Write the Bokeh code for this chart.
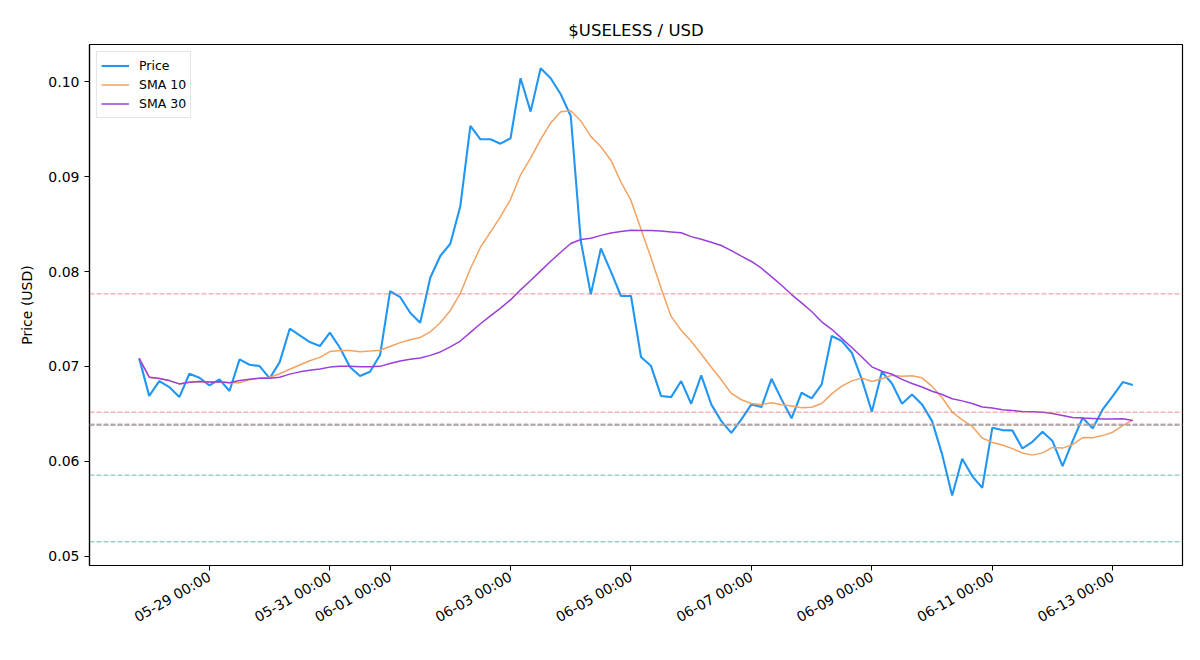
import math
import pandas as pd
from bokeh.plotting import figure
from bokeh.models import (ColumnDataSource, Range1d, FixedTicker, DatetimeTickFormatter,
                          PrintfTickFormatter, Span, Legend, LegendItem)
from bokeh.embed import file_html
from bokeh.resources import INLINE

# ---------------- data ----------------
start_time = "2025-05-27 20:00"
step = "4h"

price = [0.07085,0.0669,0.06846,0.06783,0.06677,0.06923,0.06881,0.0680,0.06864,0.06741,
0.07075,0.07018,0.07004,0.06874,0.07046,0.07398,0.07328,0.07257,0.07215,0.07356,
0.07197,0.06994,0.06899,0.06944,0.07120,0.07795,0.07732,0.07566,0.07461,0.07936,
0.08165,0.08294,0.08692,0.09536,0.09395,0.09395,0.09349,0.09406,0.10039,0.09687,
0.10145,0.10039,0.0987,0.09641,0.08323,0.0776,0.08245,0.0800,0.07743,0.07743,
0.0710,0.07004,0.06688,0.06677,0.06846,0.06607,0.06906,0.0660,0.06424,0.0630,
0.06442,0.0660,0.06572,0.0687,0.06653,0.06453,0.06723,0.06663,0.06811,0.07321,
0.07268,0.07145,0.06864,0.06522,0.06944,0.0682,0.06607,0.06705,0.0660,0.06424,
0.06073,0.0564,0.06026,0.05844,0.0572,0.06353,0.06329,0.06326,0.06136,0.06206,
0.06311,0.06213,0.05949,0.06213,0.06459,0.06347,0.06547,0.06688,0.06835,0.06804]

sma10 = [0.07085,0.06887,0.06874,0.06851,0.06816,0.06834,0.06841,0.06836,0.06839,0.06829,
0.06828,0.06861,0.06877,0.06886,0.06923,0.06970,0.07015,0.07060,0.07096,0.07157,
0.07169,0.07167,0.07156,0.07163,0.07171,0.07210,0.07251,0.07282,0.07306,0.07364,
0.07461,0.07591,0.07770,0.08030,0.08257,0.08417,0.08579,0.08763,0.09021,0.09196,
0.09394,0.09568,0.09686,0.09697,0.09589,0.09426,0.09316,0.09175,0.08945,0.08751,
0.08446,0.08143,0.07825,0.07528,0.07381,0.07265,0.07131,0.06991,0.06859,0.06715,
0.06649,0.06609,0.06597,0.06617,0.06597,0.06582,0.06564,0.06570,0.06609,0.06711,
0.06793,0.06848,0.06877,0.06842,0.06871,0.06908,0.06896,0.06901,0.06880,0.06790,
0.06670,0.06520,0.06436,0.06368,0.06246,0.06199,0.06171,0.06134,0.06087,0.06065,
0.06089,0.06146,0.06139,0.06176,0.06250,0.06249,0.06271,0.06307,0.06377,0.06437]

sma30 = [0.07085,0.06887,0.06874,0.06851,0.06816,0.06834,0.06841,0.06836,0.06839,0.06829,
0.06851,0.06865,0.06876,0.06876,0.06887,0.06919,0.06943,0.06961,0.06974,0.06993,
0.07003,0.07002,0.06998,0.06996,0.07001,0.07031,0.07057,0.07075,0.07089,0.07117,
0.07153,0.07206,0.07268,0.07360,0.07450,0.07533,0.07615,0.07702,0.07808,0.07906,
0.08008,0.08109,0.08204,0.08297,0.08339,0.08351,0.08382,0.08407,0.08424,0.08437,
0.08434,0.08434,0.08427,0.08418,0.08409,0.08369,0.08342,0.08310,0.08275,0.08221,
0.08163,0.08107,0.08036,0.07947,0.07856,0.07758,0.07670,0.07579,0.07471,0.07392,
0.07296,0.07200,0.07100,0.06996,0.06950,0.06918,0.06864,0.06821,0.06783,0.06739,
0.06704,0.06659,0.06637,0.06609,0.06572,0.06563,0.06544,0.06535,0.06525,0.06522,
0.06518,0.06505,0.06484,0.06462,0.06456,0.06452,0.06446,0.06447,0.06448,0.06431]

resistance_levels = [0.07765, 0.06518, 0.06385]
support_levels = [0.05854, 0.05151]
current_level = [0.06385]

x_tick_dates = ["2025-05-29", "2025-05-31", "2025-06-01", "2025-06-03", "2025-06-05",
                "2025-06-07", "2025-06-09", "2025-06-11", "2025-06-13"]
y_ticks = [0.05, 0.06, 0.07, 0.08, 0.09, 0.10]

# ---------------- figure ----------------
times = pd.date_range(start=start_time, periods=len(price), freq=step)
src = ColumnDataSource(dict(t=times, price=price, sma10=sma10, sma30=sma30))

span_t = times[-1] - times[0]
pad_t = span_t * 0.05
ymin = min(support_levels + price)
ymax = max(price)
pad_y = (ymax - ymin) * 0.05

FONT = "DejaVu Sans"

p = figure(width=1192, height=652, x_axis_type="datetime",
           output_backend="svg", toolbar_location=None,
           x_range=Range1d(times[0] - pad_t, times[-1] + pad_t),
           y_range=Range1d(ymin - pad_y, ymax + pad_y),
           min_border_left=89, min_border_right=10, min_border_top=44, min_border_bottom=87,
           title="$USELESS / USD")

p.background_fill_color = "white"
p.border_fill_color = "white"
p.outline_line_color = "black"
p.outline_line_width = 1.2
p.grid.visible = False

p.title.align = "center"
p.title.text_font = FONT
p.title.text_font_size = "16.5px"
p.title.text_font_style = "normal"
p.title.text_color = "black"
p.title.standoff = 10

for ax in (p.xaxis[0], p.yaxis[0]):
    ax.axis_line_color = "black"
    ax.axis_line_width = 1.2
    ax.major_tick_in = 0
    ax.major_tick_out = 5
    ax.major_tick_line_color = "black"
    ax.minor_tick_line_color = None
    ax.major_label_text_font = FONT
    ax.major_label_text_font_size = "14px"
    ax.major_label_text_color = "black"
    ax.major_label_standoff = 5

p.xaxis.ticker = FixedTicker(ticks=[pd.Timestamp(d).value / 1e6 for d in x_tick_dates])
p.xaxis.formatter = DatetimeTickFormatter(days="%m-%d %H:%M", months="%m-%d %H:%M",
                                          hours="%m-%d %H:%M")
p.xaxis.major_label_orientation = math.pi / 6

p.yaxis.ticker = FixedTicker(ticks=y_ticks)
p.yaxis.formatter = PrintfTickFormatter(format="%.2f")
p.yaxis.axis_label = "Price (USD)"
p.yaxis.axis_label_text_font = FONT
p.yaxis.axis_label_text_font_size = "14px"
p.yaxis.axis_label_text_font_style = "normal"
p.yaxis.axis_label_text_color = "black"
p.yaxis.axis_label_standoff = 10

# horizontal levels
for lv in resistance_levels:
    p.add_layout(Span(location=lv, dimension="width", line_color="#e86060", line_alpha=0.7,
                      line_width=1, line_dash="5 2"))
for lv in support_levels:
    p.add_layout(Span(location=lv, dimension="width", line_color="#2a9d8f", line_alpha=0.7,
                      line_width=1, line_dash="5 2"))
for lv in current_level:
    p.add_layout(Span(location=lv, dimension="width", line_color="#a8a8a8", line_alpha=0.85,
                      line_width=2.5, line_dash="5 2"))

r_price = p.line("t", "price", source=src, line_color="#2196f3", line_width=2.1)
r_s10 = p.line("t", "sma10", source=src, line_color="#f4a261", line_width=1.5)
r_s30 = p.line("t", "sma30", source=src, line_color="#9b3fdb", line_width=1.5)

legend = Legend(items=[LegendItem(label="Price", renderers=[r_price]),
                       LegendItem(label="SMA 10", renderers=[r_s10]),
                       LegendItem(label="SMA 30", renderers=[r_s30])],
                location="top_left")
legend.label_text_font = FONT
legend.label_text_font_size = "12.5px"
legend.label_text_color = "black"
legend.glyph_width = 28
legend.glyph_height = 19
legend.label_height = 19
legend.label_standoff = 10
legend.spacing = 0
legend.padding = 4
legend.margin = 7
legend.border_line_color = "#cccccc"
legend.border_line_width = 1
legend.background_fill_color = "white"
legend.background_fill_alpha = 0.8
p.add_layout(legend)

open("out.html", "w").write(file_html(p, INLINE))
